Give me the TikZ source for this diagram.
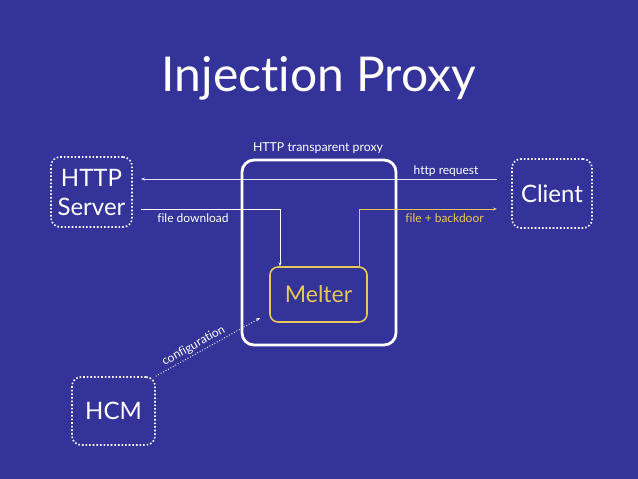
\documentclass[tikz,border=0pt]{standalone}
\usepackage{fontspec}
\setmainfont{Lato}[Ligatures={NoCommon}]
\usetikzlibrary{arrows.meta,calc}
\definecolor{bg}{HTML}{333399}
\definecolor{mel}{HTML}{E8C75A}
\definecolor{req}{HTML}{E4E4F4}
\begin{document}
\begin{tikzpicture}[x=1pt,y=-1pt,
  dotbox/.style={draw=white, line width=1.6pt, dotted, rounded corners=9pt, inner sep=0pt, text=white, font=\fontsize{24}{29}\selectfont, align=center},
  lbl/.style={text=white, font=\fontsize{12}{14}\selectfont, inner sep=1pt},
  conn/.style={draw=white, line width=0.8pt, -{Stealth[length=4pt,width=3pt]}}]
\fill[bg] (0,0) rectangle (638,479);
\useasboundingbox (0,0) rectangle (638,479);
\node[text=white, font=\fontsize{48}{58}\selectfont] (title) at (319,78) {Injection Proxy};
\node[draw=white, line width=2.8pt, rounded corners=12pt, minimum width=154pt, minimum height=185pt] (proxy) at (319,252.5) {};
\node[lbl, anchor=south, font=\fontsize{12.3}{14}\selectfont] (proxylbl) at (318,155) {HTTP transparent proxy};
\node[dotbox, minimum width=81pt, minimum height=70pt] (server) at (91.5,192) {HTTP\\Server};
\node[dotbox, minimum width=80pt, minimum height=69pt] (client) at (552,193.5) {Client};
\node[dotbox, minimum width=83pt, minimum height=68pt] (hcm) at (113.5,411) {HCM};
\node[draw=mel, line width=1.6pt, rounded corners=8pt, minimum width=97pt, minimum height=55pt, text=mel, font=\fontsize{23}{26}\selectfont] (melter) at (318.5,294.5) {Melter};
\coordinate (reqstart) at (497,179);
\coordinate (reqend) at (141,179);
\coordinate (dlstart) at (141,209);
\coordinate (bdend) at (497,209);
\coordinate (cfgend) at (260,318);
\draw[conn, draw=req] (reqstart) -- node[lbl, pos=0.143, above=1.5pt] (reqlbl) {http request} (reqend);
\draw[conn] (dlstart) -| node[lbl, pos=0.187, below=3pt] (dllbl) {file download} ([xshift=-38.5pt]melter.north);
\draw[conn, draw=mel] ([xshift=40.5pt]melter.north) |- node[lbl, text=mel, pos=0.81, below=3pt] (bdlbl) {file + backdoor} (bdend);
\draw[conn, dotted, line width=1pt] (hcm.north east) -- node[lbl, sloped, above=1pt, pos=0.4, font=\fontsize{12}{14}\selectfont] (cfglbl) {configuration} (cfgend);
\end{tikzpicture}
\end{document}
